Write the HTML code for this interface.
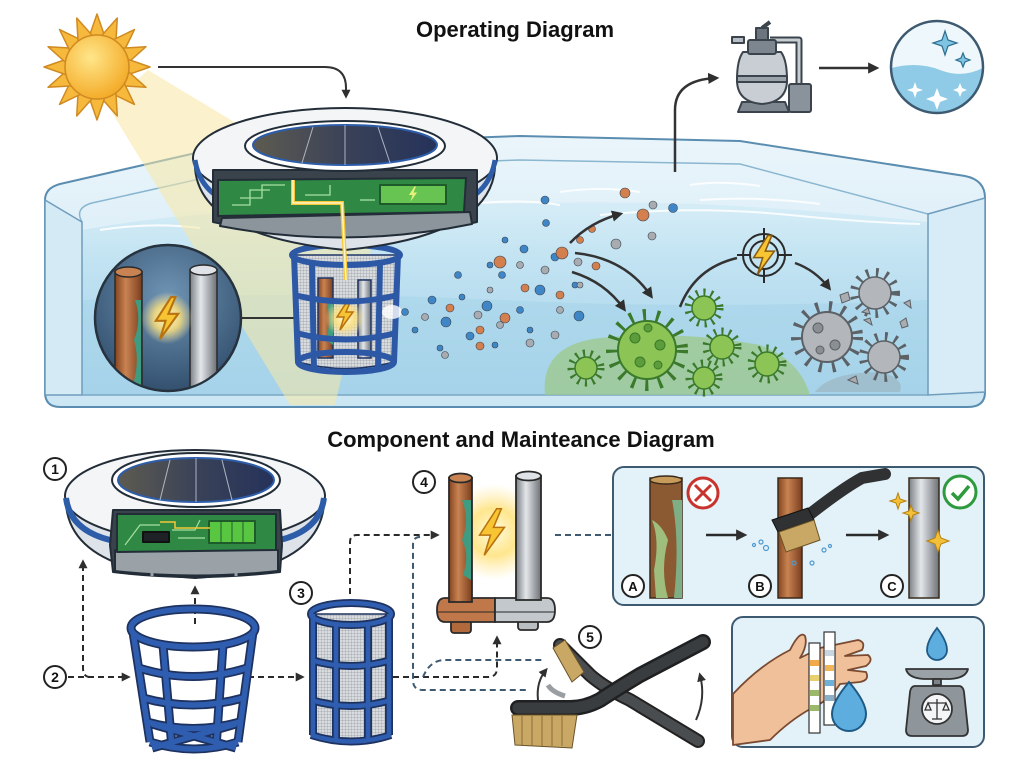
<!DOCTYPE html>
<html><head><meta charset="utf-8">
<style>
html,body{margin:0;padding:0;background:#fff;width:1024px;height:768px;overflow:hidden}
svg{display:block}
text{font-family:"Liberation Sans",Arial,sans-serif}
</style></head><body>
<svg width="1024" height="768" viewBox="0 0 1024 768" xmlns="http://www.w3.org/2000/svg">
<defs>
 <marker id="ah" viewBox="0 0 10 10" refX="7" refY="5" markerWidth="4.5" markerHeight="4.5" orient="auto"><path d="M0,0 L10,5 L0,10 z" fill="#2f2f2f"/></marker>
 <linearGradient id="water" x1="0" y1="0" x2="0" y2="1"><stop offset="0" stop-color="#d6edf7"/><stop offset="0.3" stop-color="#c2e3f2"/><stop offset="1" stop-color="#a4d2e9"/></linearGradient>
 <linearGradient id="glass" x1="0" y1="0" x2="0" y2="1"><stop offset="0" stop-color="#eaf5fb"/><stop offset="1" stop-color="#cbe6f3"/></linearGradient>
 <radialGradient id="sunG" cx="0.4" cy="0.35" r="0.7"><stop offset="0" stop-color="#ffe68a"/><stop offset="1" stop-color="#f3a823"/></radialGradient>
 <linearGradient id="copper" x1="0" x2="1"><stop offset="0" stop-color="#84441f"/><stop offset="0.4" stop-color="#c98352"/><stop offset="1" stop-color="#7a3e1e"/></linearGradient>
 <linearGradient id="steel" x1="0" x2="1"><stop offset="0" stop-color="#7a8086"/><stop offset="0.4" stop-color="#e4e7ea"/><stop offset="1" stop-color="#6c7177"/></linearGradient>
 <linearGradient id="solar" x1="0" x2="1"><stop offset="0" stop-color="#5d5b50"/><stop offset="0.5" stop-color="#3a4258"/><stop offset="1" stop-color="#25325a"/></linearGradient>
 <radialGradient id="glow"><stop offset="0" stop-color="#fffbe0"/><stop offset="0.5" stop-color="#ffe27a" stop-opacity="0.85"/><stop offset="1" stop-color="#ffe9a0" stop-opacity="0"/></radialGradient>
 <radialGradient id="inset" cx="0.5" cy="0.35" r="0.75"><stop offset="0" stop-color="#6f94b4"/><stop offset="1" stop-color="#2a4664"/></radialGradient>
 <pattern id="mesh" width="3" height="3" patternUnits="userSpaceOnUse"><rect width="3" height="3" fill="#d9dcdf"/><path d="M0,0 L3,0 M0,0 L0,3" stroke="#959ba1" stroke-width="0.7"/></pattern>
 <polygon id="ray" points="-8,-30 0,-53 8,-30" />
 <path id="bolt" d="M3,-15 L-8,2 L-1,2 L-5,15 L8,-3 L1,-3 L6,-15 Z"/>
</defs>

<!-- ============ TITLES ============ -->
<text x="515" y="37" font-size="22" font-weight="bold" text-anchor="middle" fill="#111">Operating Diagram</text>
<text x="521" y="447" font-size="22" font-weight="bold" text-anchor="middle" fill="#111">Component and Mainteance Diagram</text>

<!-- ============ POOL ============ -->
<path d="M45,200 Q45,188 60,184 L200,152 Q220,147 245,146 L520,136 L740,141 L965,176 Q985,180 985,198 L985,392 Q985,407 968,407 L60,407 Q45,407 45,392 Z" fill="url(#glass)" stroke="#5b8db0" stroke-width="2"/>
<path d="M82,230 Q200,208 330,212 Q520,198 700,204 Q820,210 928,222 L928,395 L82,395 Z" fill="url(#water)"/>
<path d="M82,300 Q300,290 500,300 Q700,310 928,300 L928,395 L82,395 Z" fill="#a6d3ea" opacity="0.6"/>
<path d="M82,222 Q74,208 92,203 L240,170 L520,160 L740,164 L928,214" fill="none" stroke="#8ab6d0" stroke-width="1.5"/>
<path d="M45,200 L82,222 L82,395 L45,395 Z" fill="#d4eaf5" stroke="#6e9cbc" stroke-width="1.5"/>
<path d="M928,214 L985,198 L985,392 L928,395 Z" fill="#d7ecf6" stroke="#6e9cbc" stroke-width="1.5"/>
<line x1="82" y1="395" x2="928" y2="395" stroke="#7aa8c6" stroke-width="1.5"/>
<g fill="none" stroke="#ffffff" stroke-width="2" opacity="0.85">
 <path d="M100,230 Q150,222 200,228"/><path d="M560,192 Q600,186 640,192"/><path d="M690,185 Q720,180 760,186"/>
 <path d="M600,215 Q700,205 800,216 Q860,222 920,224"/><path d="M700,200 Q760,196 820,204"/>
 <path d="M460,205 Q520,198 560,205"/>
</g>
<!-- algae patch & debris patch -->
<path d="M545,395 Q540,345 600,338 Q680,330 760,345 Q800,360 810,395 Z" fill="#9cc883" opacity="0.7"/>
<path d="M815,392 Q830,372 880,372 Q905,378 900,392 Z" fill="#9aa6ae" opacity="0.45"/>

<!-- sun beam -->
<polygon points="108,106 148,70 380,210 335,405 290,405" fill="#f8e8a4" opacity="0.55"/>

<!-- ============ SUN ============ -->
<g transform="translate(97,67)" fill="#f6b93c" stroke="#cf8a22" stroke-width="1.5" stroke-linejoin="round">
 <use href="#ray" transform="rotate(0)"/><use href="#ray" transform="rotate(22.5)"/><use href="#ray" transform="rotate(45)"/><use href="#ray" transform="rotate(67.5)"/>
 <use href="#ray" transform="rotate(90)"/><use href="#ray" transform="rotate(112.5)"/><use href="#ray" transform="rotate(135)"/><use href="#ray" transform="rotate(157.5)"/>
 <use href="#ray" transform="rotate(180)"/><use href="#ray" transform="rotate(202.5)"/><use href="#ray" transform="rotate(225)"/><use href="#ray" transform="rotate(247.5)"/>
 <use href="#ray" transform="rotate(270)"/><use href="#ray" transform="rotate(292.5)"/><use href="#ray" transform="rotate(315)"/><use href="#ray" transform="rotate(337.5)"/>
 <circle r="32" fill="url(#sunG)"/>
</g>
<path d="M158,67 L325,67 Q346,67 346,88 L346,96" fill="none" stroke="#333" stroke-width="2" marker-end="url(#ah)"/>

<!-- ============ INSET CIRCLE ============ -->
<line x1="240" y1="318" x2="305" y2="318" stroke="#333" stroke-width="2"/>
<circle cx="168" cy="318" r="73" fill="url(#inset)" stroke="#26323d" stroke-width="2.5"/>
<clipPath id="ic"><circle cx="168" cy="318" r="72"/></clipPath>
<g clip-path="url(#ic)" stroke="#2a2a2a" stroke-width="1.5">
 <rect x="115" y="272" width="27" height="130" fill="url(#copper)"/>
 <ellipse cx="128.5" cy="272" rx="13.5" ry="5" fill="#c98352"/>
 <path d="M135,300 Q142,320 134,340 Q140,360 133,385 L141,385 L141,300 Z" fill="#3f9c80" stroke="none"/>
 <rect x="190" y="270" width="27" height="130" fill="url(#steel)"/>
 <ellipse cx="203.5" cy="270" rx="13.5" ry="5" fill="#dfe2e6"/>
 <circle cx="167" cy="318" r="26" fill="url(#glow)" stroke="none"/>
 <use href="#bolt" transform="translate(167,318) scale(1.4)" fill="#f7c533" stroke="#b8720f"/>
</g>

<!-- ============ BASKET (top) ============ -->
<g stroke="#1f3566" stroke-width="1.5">
 <path d="M292,255 L298,362 Q345,375 394,362 L400,255 Z" fill="url(#mesh)"/>
 <rect x="318" y="278" width="15" height="80" fill="url(#copper)"/>
 <path d="M326,300 Q332,320 326,340 L333,345 L333,300 Z" fill="#3f9c80" stroke="none"/>
 <rect x="358" y="280" width="13" height="78" fill="url(#steel)"/>
 <circle cx="345" cy="318" r="20" fill="url(#glow)" stroke="none"/>
 <use href="#bolt" transform="translate(345,315)" fill="#f7c533" stroke="#b8720f"/>
 <g fill="none" stroke="#2c58a6" stroke-width="6">
  <ellipse cx="346" cy="255" rx="54" ry="10"/>
  <path d="M294,295 Q346,308 398,295"/>
  <path d="M296,333 Q346,346 396,333"/>
  <ellipse cx="346" cy="362" rx="48" ry="10"/>
  <line x1="294" y1="255" x2="298" y2="362"/><line x1="398" y1="255" x2="394" y2="362"/>
  <line x1="312" y1="262" x2="314" y2="370"/><line x1="380" y1="262" x2="378" y2="370"/>
 </g>
</g>
<ellipse cx="392" cy="312" rx="10" ry="7" fill="#fff" opacity="0.8"/>

<!-- ============ FLOATER (top) ============ -->
<g stroke="#222d38" stroke-width="2" stroke-linejoin="round">
 <path d="M195,168 Q200,236 345,250 Q490,236 495,168 Z" fill="#dde3e8"/>
 <ellipse cx="345" cy="158" rx="152" ry="50" fill="#f3f5f7"/>
 <path d="M195,160 Q200,192 232,204" fill="none" stroke="#2d5da8" stroke-width="5"/>
 <path d="M495,160 Q490,192 458,204" fill="none" stroke="#2d5da8" stroke-width="5"/>
 <path d="M213,170 L477,170 L477,222 Q345,252 213,222 Z" fill="#3a434b"/>
 <path d="M222,218 L470,212 L472,224 Q345,250 220,226 Z" fill="#8c959c"/>
 <path d="M218,180 L466,178 L464,212 L218,216 Z" fill="#2f8944"/>
 <rect x="380" y="185" width="66" height="19" fill="#68c452" stroke="#1f5a2a"/>
 <ellipse cx="345" cy="146" rx="100" ry="25" fill="#ffffff"/>
 <ellipse cx="345" cy="145" rx="92" ry="20" fill="url(#solar)" stroke="#2d5da8" stroke-width="2"/>
</g>
<g stroke="#c9d0d8" stroke-width="1" fill="none" opacity="0.8">
 <line x1="313" y1="127" x2="302" y2="163"/><line x1="345" y1="125" x2="345" y2="165"/><line x1="378" y1="127" x2="390" y2="163"/>
</g>
<g stroke="#a6e0a0" stroke-width="1.3" fill="none">
 <path d="M232,205 L250,205 L250,190 L270,190"/><path d="M240,198 L262,198 L262,185 L285,185"/>
 <path d="M305,195 L330,195 L330,185"/><path d="M360,200 L375,200"/>
</g>
<use href="#bolt" transform="translate(413,194) scale(0.5)" fill="#e4f27a"/>
<path d="M293,180 L293,203 L342,203 L346,280" fill="none" stroke="#f6c838" stroke-width="4"/>
<path d="M293,180 L293,203 L342,203 L346,280" fill="none" stroke="#fff6c8" stroke-width="1.5"/>

<!-- ============ PARTICLES ============ -->
<g stroke="#3a4450" stroke-width="0.6">
 <g fill="#3f86c7">
  <circle cx="405" cy="312" r="3.5"/><circle cx="415" cy="330" r="3"/><circle cx="432" cy="300" r="4"/><circle cx="446" cy="322" r="5"/><circle cx="440" cy="348" r="3"/>
  <circle cx="462" cy="297" r="3"/><circle cx="470" cy="336" r="4"/><circle cx="487" cy="306" r="5"/><circle cx="495" cy="345" r="3"/><circle cx="502" cy="275" r="3.5"/>
  <circle cx="505" cy="240" r="3"/><circle cx="524" cy="249" r="4"/><circle cx="546" cy="223" r="3.5"/><circle cx="555" cy="257" r="4"/><circle cx="575" cy="285" r="3"/>
  <circle cx="520" cy="310" r="3.5"/><circle cx="530" cy="330" r="3"/><circle cx="540" cy="290" r="5"/><circle cx="673" cy="208" r="4.5"/><circle cx="490" cy="265" r="3"/>
  <circle cx="458" cy="275" r="3.5"/><circle cx="579" cy="316" r="5"/><circle cx="545" cy="200" r="4"/>
 </g>
 <g fill="#d4804e">
  <circle cx="480" cy="330" r="4"/><circle cx="500" cy="262" r="6"/><circle cx="525" cy="288" r="4"/><circle cx="505" cy="318" r="5"/><circle cx="480" cy="346" r="4"/>
  <circle cx="560" cy="295" r="4"/><circle cx="592" cy="229" r="3.5"/><circle cx="562" cy="253" r="6"/><circle cx="625" cy="193" r="5"/><circle cx="643" cy="215" r="6"/>
  <circle cx="450" cy="308" r="4"/><circle cx="596" cy="266" r="4"/><circle cx="580" cy="240" r="3.5"/>
 </g>
 <g fill="#a8abb0">
  <circle cx="425" cy="317" r="3.5"/><circle cx="445" cy="355" r="3.5"/><circle cx="478" cy="315" r="4"/><circle cx="490" cy="290" r="3"/><circle cx="500" cy="325" r="3.5"/>
  <circle cx="520" cy="265" r="3.5"/><circle cx="545" cy="270" r="4"/><circle cx="530" cy="343" r="4"/><circle cx="560" cy="310" r="3.5"/><circle cx="578" cy="262" r="4"/>
  <circle cx="653" cy="205" r="4"/><circle cx="652" cy="236" r="4"/><circle cx="616" cy="244" r="5"/><circle cx="555" cy="335" r="4"/><circle cx="580" cy="285" r="3"/>
 </g>
</g>

<!-- pool arrows -->
<g fill="none" stroke="#333" stroke-width="2.5">
 <path d="M570,243 Q590,222 620,214" marker-end="url(#ah)"/>
 <path d="M575,253 Q625,258 651,296" marker-end="url(#ah)"/>
 <path d="M572,272 Q605,282 624,309" marker-end="url(#ah)"/>
 <path d="M680,307 Q695,268 737,258"/>
 <path d="M795,263 Q815,270 829,288" marker-end="url(#ah)"/>
</g>

<!-- target -->
<g stroke="#2a2a2a" stroke-width="2" fill="none">
 <circle cx="764" cy="255" r="21"/><circle cx="764" cy="255" r="14"/>
 <line x1="737" y1="255" x2="750" y2="255"/><line x1="778" y1="255" x2="792" y2="255"/>
 <line x1="764" y1="228" x2="764" y2="241"/><line x1="764" y1="269" x2="764" y2="283"/>
</g>
<use href="#bolt" transform="translate(764,255) scale(1.3)" fill="#f7c533" stroke="#8a5a10" stroke-width="1.2"/>

<!-- green bacteria -->
<g stroke="#3a7a2a">
 <circle cx="647" cy="350" r="34" fill="none" stroke-width="14" stroke-dasharray="3 10"/>
 <circle cx="647" cy="350" r="29" fill="#8cc456" stroke-width="2"/>
 <g fill="#5d9c3a" stroke-width="1"><circle cx="635" cy="338" r="5"/><circle cx="660" cy="345" r="5"/><circle cx="640" cy="362" r="5"/><circle cx="658" cy="365" r="4"/><circle cx="648" cy="328" r="4"/></g>
 <g><circle cx="704" cy="308" r="15" fill="none" stroke-width="9" stroke-dasharray="2 5"/><circle cx="704" cy="308" r="12" fill="#8cc456" stroke-width="1.5"/></g>
 <g><circle cx="722" cy="347" r="15" fill="none" stroke-width="9" stroke-dasharray="2 5"/><circle cx="722" cy="347" r="12" fill="#8cc456" stroke-width="1.5"/></g>
 <g><circle cx="586" cy="368" r="14" fill="none" stroke-width="9" stroke-dasharray="2 5"/><circle cx="586" cy="368" r="11" fill="#8cc456" stroke-width="1.5"/></g>
 <g><circle cx="704" cy="378" r="14" fill="none" stroke-width="9" stroke-dasharray="2 5"/><circle cx="704" cy="378" r="11" fill="#8cc456" stroke-width="1.5"/></g>
 <g><circle cx="767" cy="364" r="15" fill="none" stroke-width="9" stroke-dasharray="2 5"/><circle cx="767" cy="364" r="12" fill="#8cc456" stroke-width="1.5"/></g>
</g>
<!-- gray bacteria -->
<g stroke="#5c6166">
 <circle cx="827" cy="337" r="30" fill="none" stroke-width="12" stroke-dasharray="3 10"/>
 <circle cx="827" cy="337" r="25" fill="#b3b7bb" stroke-width="2"/>
 <g fill="#8a8f94" stroke-width="1"><circle cx="818" cy="328" r="5"/><circle cx="835" cy="345" r="5"/><circle cx="820" cy="350" r="4"/></g>
 <circle cx="875" cy="293" r="20" fill="none" stroke-width="10" stroke-dasharray="2.5 7"/><circle cx="875" cy="293" r="16" fill="#b3b7bb" stroke-width="1.5"/>
 <circle cx="884" cy="357" r="20" fill="none" stroke-width="10" stroke-dasharray="2.5 7"/><circle cx="884" cy="357" r="16" fill="#b3b7bb" stroke-width="1.5"/>
 <g fill="#a9adb1" stroke-width="1"><polygon points="840,295 848,292 850,300 842,303"/><polygon points="864,320 870,318 872,325"/><polygon points="900,322 906,318 908,326 902,328"/><polygon points="848,380 856,376 858,384"/><polygon points="862,312 868,308 870,314"/><polygon points="904,303 910,300 911,308"/></g>
</g>

<!-- ============ FILTER PUMP & CLEAN WATER ============ -->
<path d="M675,172 L675,110 Q675,80 716,78" fill="none" stroke="#333" stroke-width="2.5" marker-end="url(#ah)"/>
<g stroke="#3b444c" stroke-width="2" stroke-linejoin="round">
 <path d="M770,40 L799,40 L799,88" fill="none" stroke="#3b444c" stroke-width="7"/>
 <path d="M770,40 L799,40 L799,88" fill="none" stroke="#c9ced3" stroke-width="3"/>
 <rect x="732" y="37" width="12" height="6" fill="#b7bec5"/>
 <rect x="789" y="84" width="22" height="28" rx="2" fill="#8a939b"/>
 <path d="M738,112 L742,102 L785,102 L789,112 Z" fill="#7e878f"/>
 <path d="M743,52 Q737,60 737,80 Q737,102 762,104 Q787,102 787,80 Q787,60 781,52 Z" fill="#c8ced4"/>
 <rect x="737" y="76" width="50" height="6" fill="#9aa2aa"/>
 <rect x="748" y="40" width="28" height="14" rx="2" fill="#7d868e"/>
 <rect x="756" y="28" width="12" height="12" fill="#6c757d"/>
 <line x1="762" y1="28" x2="770" y2="22" stroke-width="4"/>
</g>
<line x1="819" y1="68" x2="876" y2="68" stroke="#333" stroke-width="2.5" marker-end="url(#ah)"/>
<clipPath id="cw"><circle cx="937" cy="67" r="46"/></clipPath>
<circle cx="937" cy="67" r="46" fill="#eef7fb"/>
<path d="M885,70 Q915,60 940,70 Q965,80 990,64 L990,120 L885,120 Z" fill="#8fcbe7" clip-path="url(#cw)"/>
<circle cx="937" cy="67" r="46" fill="none" stroke="#3d5a70" stroke-width="2.5"/>
<g fill="#ffffff"><path d="M915,82 l2,6 6,2 -6,2 -2,6 -2,-6 -6,-2 6,-2z"/><path d="M937,88 l3,8 8,3 -8,3 -3,8 -3,-8 -8,-3 8,-3z"/><path d="M960,83 l2,5 5,2 -5,2 -2,5 -2,-5 -5,-2 5,-2z"/></g>
<g fill="#7ec5e3" stroke="#2f6e8e" stroke-width="1.2"><path d="M945,31 l3,9 9,3 -9,3 -3,9 -3,-9 -9,-3 9,-3z"/><path d="M963,53 l2,5 5,2 -5,2 -2,5 -2,-5 -5,-2 5,-2z"/></g>

<!-- ============ BOTTOM: CONNECTORS ============ -->
<g fill="none" stroke="#2a2a2a" stroke-width="2" stroke-dasharray="6 4">
 <path d="M68,677 L128,677" marker-end="url(#ah)"/>
 <path d="M90,677 Q83,677 83,668 L83,562" marker-end="url(#ah)"/>
 <path d="M195,624 L195,588" marker-end="url(#ah)"/>
 <path d="M248,677 L302,677" marker-end="url(#ah)"/>
 <path d="M350,594 L350,542 Q350,535 357,535 L437,535" marker-end="url(#ah)"/>
 <path d="M393,677 L488,677 Q497,677 497,668 L497,638" marker-end="url(#ah)"/>
</g>
<g fill="none" stroke="#3d5a72" stroke-width="2" stroke-dasharray="6 4">
 <path d="M420,537 Q413,537 413,545 L413,680 Q413,690 423,690 L528,690"/>
 <path d="M423,677 Q430,660 445,660 L545,660"/>
 <path d="M555,535 L611,535"/>
</g>

<!-- circled numbers -->
<g font-size="14" font-weight="bold" text-anchor="middle" fill="#111">
 <circle cx="55" cy="469" r="11" fill="#fff" stroke="#222" stroke-width="2"/><text x="55" y="474">1</text>
 <circle cx="55" cy="677" r="11" fill="#fff" stroke="#222" stroke-width="2"/><text x="55" y="682">2</text>
 <circle cx="301" cy="593" r="11" fill="#fff" stroke="#222" stroke-width="2"/><text x="301" y="598">3</text>
 <circle cx="424" cy="482" r="11" fill="#fff" stroke="#222" stroke-width="2"/><text x="424" y="487">4</text>
 <circle cx="590" cy="637" r="11" fill="#fff" stroke="#222" stroke-width="2"/><text x="590" y="642">5</text>
</g>

<!-- ============ FLOATER 2 ============ -->
<g stroke="#222d38" stroke-width="2" stroke-linejoin="round">
 <path d="M66,505 Q72,570 195,578 Q318,570 324,505 Z" fill="#dde3e8"/>
 <ellipse cx="195" cy="496" rx="130" ry="46" fill="#f3f5f7"/>
 <path d="M66,498 Q70,530 110,540" fill="none" stroke="#2d5da8" stroke-width="6"/>
 <path d="M324,498 Q320,530 280,540" fill="none" stroke="#2d5da8" stroke-width="6"/>
 <path d="M113,510 L280,510 L282,545 L280,572 Q195,582 113,572 L110,545 Z" fill="#3a434b"/>
 <path d="M115,550 L278,550 L278,571 Q195,580 115,571 Z" fill="#9aa2a8"/>
 <path d="M117,514 L276,514 L276,550 L117,552 Z" fill="#2f8944"/>
 <rect x="209" y="521" width="46" height="22" fill="#58c640" stroke="#1f5a2a"/>
 <rect x="143" y="532" width="26" height="10" fill="#1e2226" stroke="#111"/>
 <ellipse cx="196" cy="480" rx="84" ry="27" fill="#ffffff"/>
 <ellipse cx="196" cy="480" rx="78" ry="22" fill="url(#solar)" stroke="#2d5da8" stroke-width="2"/>
</g>
<g stroke="#a6e0a0" stroke-width="1.2" fill="none"><path d="M125,545 L140,525 L160,525"/><path d="M172,530 L195,530 L200,520"/><path d="M178,538 L205,538"/></g>
<path d="M160,522 L175,522 L175,528 L210,528" fill="none" stroke="#f6c838" stroke-width="1.5"/>
<g stroke="#1f5a2a" stroke-width="1"><line x1="221" y1="521" x2="221" y2="543"/><line x1="232" y1="521" x2="232" y2="543"/><line x1="243" y1="521" x2="243" y2="543"/></g>
<g stroke="#c9d0d8" stroke-width="1" fill="none" opacity="0.8"><line x1="170" y1="460" x2="160" y2="500"/><line x1="196" y1="458" x2="196" y2="502"/><line x1="222" y1="460" x2="232" y2="500"/></g>
<g stroke="#9aa2a8" stroke-width="3"><line x1="152" y1="555" x2="152" y2="576"/><line x1="236" y1="555" x2="236" y2="576"/></g>

<!-- ============ BASKET 2 ============ -->
<g fill="none" stroke="#1e3260" stroke-width="9" stroke-linejoin="round">
 <ellipse cx="193" cy="628" rx="62" ry="19"/>
 <line x1="133" y1="632" x2="150" y2="742"/><line x1="253" y1="632" x2="238" y2="742"/>
 <line x1="163" y1="645" x2="172" y2="748"/><line x1="223" y1="645" x2="216" y2="748"/>
 <path d="M139,668 Q193,685 247,668"/><path d="M143,698 Q193,712 243,698"/><path d="M147,722 Q193,735 240,722"/>
 <path d="M150,742 Q194,756 238,742"/>
 <line x1="152" y1="724" x2="236" y2="748"/><line x1="236" y1="724" x2="152" y2="748"/>
</g>
<g fill="none" stroke="#2f5db0" stroke-width="5.5" stroke-linejoin="round">
 <ellipse cx="193" cy="628" rx="62" ry="19"/>
 <line x1="133" y1="632" x2="150" y2="742"/><line x1="253" y1="632" x2="238" y2="742"/>
 <line x1="163" y1="645" x2="172" y2="748"/><line x1="223" y1="645" x2="216" y2="748"/>
 <path d="M139,668 Q193,685 247,668"/><path d="M143,698 Q193,712 243,698"/><path d="M147,722 Q193,735 240,722"/>
 <path d="M150,742 Q194,756 238,742"/>
 <line x1="152" y1="724" x2="236" y2="748"/><line x1="236" y1="724" x2="152" y2="748"/>
</g>

<!-- ============ CYLINDER 3 ============ -->
<path d="M311,614 L311,735 Q351,748 391,735 L391,614 Z" fill="url(#mesh)" stroke="#1e3260" stroke-width="1.5"/>
<g fill="none" stroke="#1e3260" stroke-width="8">
 <ellipse cx="351" cy="614" rx="40" ry="11"/><path d="M311,660 Q351,672 391,660"/><path d="M311,700 Q351,712 391,700"/><path d="M311,735 Q351,748 391,735"/>
 <line x1="313" y1="614" x2="313" y2="735"/><line x1="389" y1="614" x2="389" y2="735"/><line x1="336" y1="622" x2="336" y2="742"/><line x1="368" y1="622" x2="368" y2="742"/>
</g>
<g fill="none" stroke="#2f5db0" stroke-width="4.5">
 <ellipse cx="351" cy="614" rx="40" ry="11"/><path d="M311,660 Q351,672 391,660"/><path d="M311,700 Q351,712 391,700"/><path d="M311,735 Q351,748 391,735"/>
 <line x1="313" y1="614" x2="313" y2="735"/><line x1="389" y1="614" x2="389" y2="735"/><line x1="336" y1="622" x2="336" y2="742"/><line x1="368" y1="622" x2="368" y2="742"/>
</g>

<!-- ============ ELECTRODE 4 ============ -->
<circle cx="494" cy="532" r="48" fill="url(#glow)"/>
<g stroke="#2a2a2a" stroke-width="1.8">
 <rect x="451" y="610" width="20" height="23" rx="3" fill="#b26a3c"/>
 <rect x="518" y="610" width="20" height="20" rx="3" fill="#b9bec3"/>
 <path d="M445,598 L495,598 L495,622 L445,622 Q437,622 437,610 Q437,598 445,598 Z" fill="#c0784a"/>
 <path d="M495,598 L547,598 Q555,598 555,610 Q555,622 547,622 L495,622 Z" fill="#c3c8cd"/>
 <line x1="438" y1="612" x2="554" y2="612" stroke-width="1"/>
 <rect x="449" y="478" width="23" height="124" fill="url(#copper)"/>
 <ellipse cx="460.5" cy="478" rx="11.5" ry="4.5" fill="#c98352"/>
 <rect x="516" y="476" width="25" height="124" fill="url(#steel)"/>
 <ellipse cx="528.5" cy="476" rx="12.5" ry="4.5" fill="#dfe2e6"/>
</g>
<path d="M462,500 Q470,520 462,540 Q470,555 463,575 L471,580 L471,500 Z" fill="#3f9c80"/>
<use href="#bolt" transform="translate(492,532) scale(1.55)" fill="#f7c533" stroke="#b8720f" stroke-width="1"/>

<!-- ============ PANEL A/B/C ============ -->
<rect x="613" y="467" width="371" height="138" rx="11" fill="#e3f1f8" stroke="#3d5a70" stroke-width="2"/>
<g stroke="#3a2a1a" stroke-width="1.5">
 <rect x="650" y="478" width="32" height="120" fill="#8b5a33"/>
 <path d="M652,520 Q660,540 654,570 L656,598 L668,598 Q660,570 668,540 Q662,525 652,520 Z" fill="#9fbd7d" stroke="none"/>
 <path d="M672,500 Q680,540 674,598 L682,598 L682,500 Z" fill="#7fae85" stroke="none"/>
 <ellipse cx="666" cy="480" rx="16" ry="4" fill="#c79b5a"/>
 <rect x="778" y="478" width="24" height="120" fill="url(#copper)"/>
 <rect x="909" y="478" width="30" height="120" fill="url(#steel)"/>
</g>
<circle cx="703" cy="493" r="15" fill="#fff" stroke="#c8332d" stroke-width="3"/>
<path d="M695,485 L711,501 M711,485 L695,501" stroke="#c8332d" stroke-width="3"/>
<circle cx="960" cy="492" r="16" fill="#fff" stroke="#2e9a3e" stroke-width="3"/>
<path d="M952,493 L958,499 L969,486" fill="none" stroke="#2e9a3e" stroke-width="3.5"/>
<line x1="706" y1="535" x2="744" y2="535" stroke="#2a2a2a" stroke-width="2.5" marker-end="url(#ah)"/>
<line x1="846" y1="535" x2="886" y2="535" stroke="#2a2a2a" stroke-width="2.5" marker-end="url(#ah)"/>
<!-- brush B -->
<path d="M885,474 L862,478 Q840,490 800,522" fill="none" stroke="#2f3133" stroke-width="12" stroke-linecap="round"/>
<polygon points="772,520 808,508 814,520 778,532" fill="#2f3133" stroke="#111" stroke-width="1"/>
<polygon points="779,532 814,520 820,540 786,552" fill="#c9a865" stroke="#6b5326" stroke-width="1"/>
<g fill="none" stroke="#4e9ad0" stroke-width="1.2"><circle cx="761" cy="542" r="2"/><circle cx="766" cy="548" r="2.5"/><circle cx="754" cy="545" r="1.5"/><circle cx="824" cy="550" r="2"/><circle cx="812" cy="563" r="2"/><circle cx="830" cy="546" r="1.5"/><circle cx="794" cy="563" r="2"/></g>
<g fill="#f3c03a" stroke="#b8820f" stroke-width="1">
 <path d="M898,493 l2,6 6,2 -6,2 -2,6 -2,-6 -6,-2 6,-2z"/><path d="M911,505 l2,6 6,2 -6,2 -2,6 -2,-6 -6,-2 6,-2z"/><path d="M938,530 l3,8 8,3 -8,3 -3,8 -3,-8 -8,-3 8,-3z"/>
</g>
<g font-size="13" font-weight="bold" text-anchor="middle" fill="#111">
 <circle cx="633" cy="586" r="11" fill="#fff" stroke="#222" stroke-width="2"/><text x="633" y="591">A</text>
 <circle cx="760" cy="586" r="11" fill="#fff" stroke="#222" stroke-width="2"/><text x="760" y="591">B</text>
 <circle cx="892" cy="586" r="11" fill="#fff" stroke="#222" stroke-width="2"/><text x="892" y="591">C</text>
</g>

<!-- ============ PANEL 2 (hand/scale) ============ -->
<rect x="732" y="617" width="252" height="130" rx="11" fill="#e3f1f8" stroke="#3d5a70" stroke-width="2"/>
<path d="M733,694 Q760,665 790,650 Q800,630 805,636 Q808,645 800,658 L820,648 L858,640 Q866,642 862,650 L845,656 L868,655 Q874,660 866,666 L848,670 L866,672 Q870,680 860,682 L840,684 Q830,700 812,708 Q790,720 770,740 L733,745 Z" fill="#f0c09b" stroke="#7a4a30" stroke-width="1.8" stroke-linejoin="round"/>
<rect x="809" y="643" width="11" height="90" fill="#fff" stroke="#333" stroke-width="1.2"/>
<g><rect x="810" y="660" width="9" height="6" fill="#f2a94a"/><rect x="810" y="675" width="9" height="6" fill="#e8d070"/><rect x="810" y="690" width="9" height="6" fill="#9cb86a"/><rect x="810" y="705" width="9" height="6" fill="#9cb86a"/></g>
<rect x="824" y="632" width="11" height="93" fill="#fff" stroke="#333" stroke-width="1.2"/>
<g><rect x="825" y="650" width="9" height="6" fill="#c9d6e0"/><rect x="825" y="665" width="9" height="6" fill="#f0b45a"/><rect x="825" y="680" width="9" height="6" fill="#6fb0d8"/><rect x="825" y="695" width="9" height="6" fill="#8ab0c8"/></g>
<path d="M849,682 Q866,702 866,714 A17,17 0 1 1 832,714 Q832,702 849,682 Z" fill="#5daedf" stroke="#1f5a86" stroke-width="2"/>
<path d="M937,628 Q947,641 947,650 A10,10 0 1 1 927,650 Q927,641 937,628 Z" fill="#5daedf" stroke="#1f5a86" stroke-width="1.8"/>
<g stroke="#333" stroke-width="1.8" stroke-linejoin="round">
 <path d="M906,669 L968,669 Q966,678 950,679 L924,679 Q908,678 906,669 Z" fill="#9aa1a7"/>
 <rect x="933" y="679" width="8" height="6" fill="#7c848a"/>
 <path d="M915,686 L959,686 Q963,686 964,692 L968,730 Q968,736 962,736 L912,736 Q906,736 906,730 L910,692 Q911,686 915,686 Z" fill="#8e969c"/>
 <circle cx="937" cy="709" r="15" fill="#f4f5f6"/>
</g>
<g stroke="#333" stroke-width="1.3" fill="none"><line x1="937" y1="699" x2="937" y2="719"/><line x1="928" y1="703" x2="946" y2="703"/><path d="M925,710 L928,703 L931,710 Z"/><path d="M943,710 L946,703 L949,710 Z"/><line x1="932" y1="719" x2="942" y2="719"/></g>

<!-- ============ BRUSHES 5 ============ -->
<path d="M560,645 L590,675 Q605,688 630,700 L698,741" fill="none" stroke="#222" stroke-width="14" stroke-linecap="round"/>
<path d="M560,645 L590,675 Q605,688 630,700 L698,741" fill="none" stroke="#4a4d50" stroke-width="10" stroke-linecap="round"/>
<polygon points="553,648 565,640 584,672 572,682" fill="#c9a865" stroke="#6b5326" stroke-width="1"/>
<path d="M703,642 L640,675 Q615,690 600,700 Q585,708 570,708 L518,708" fill="none" stroke="#1e2022" stroke-width="16" stroke-linecap="round" stroke-linejoin="round"/>
<path d="M703,642 L640,675 Q615,690 600,700 Q585,708 570,708 L518,708" fill="none" stroke="#3a3d40" stroke-width="11" stroke-linecap="round" stroke-linejoin="round"/>
<polygon points="512,715 577,715 572,748 515,745" fill="#c9a865" stroke="#6b5326" stroke-width="1"/>
<g stroke="#8a6d35" stroke-width="1"><line x1="522" y1="716" x2="522" y2="745"/><line x1="532" y1="716" x2="532" y2="746"/><line x1="542" y1="716" x2="542" y2="746"/><line x1="552" y1="716" x2="552" y2="746"/><line x1="562" y1="716" x2="562" y2="746"/></g>
<path d="M548,685 Q552,692 565,696" fill="none" stroke="#9a9ea2" stroke-width="5"/>
<path d="M538,700 Q536,682 546,670" fill="none" stroke="#333" stroke-width="2" marker-end="url(#ah)"/>
<path d="M696,720 Q706,698 700,675" fill="none" stroke="#333" stroke-width="2" marker-end="url(#ah)"/>

</svg>
</body></html>
